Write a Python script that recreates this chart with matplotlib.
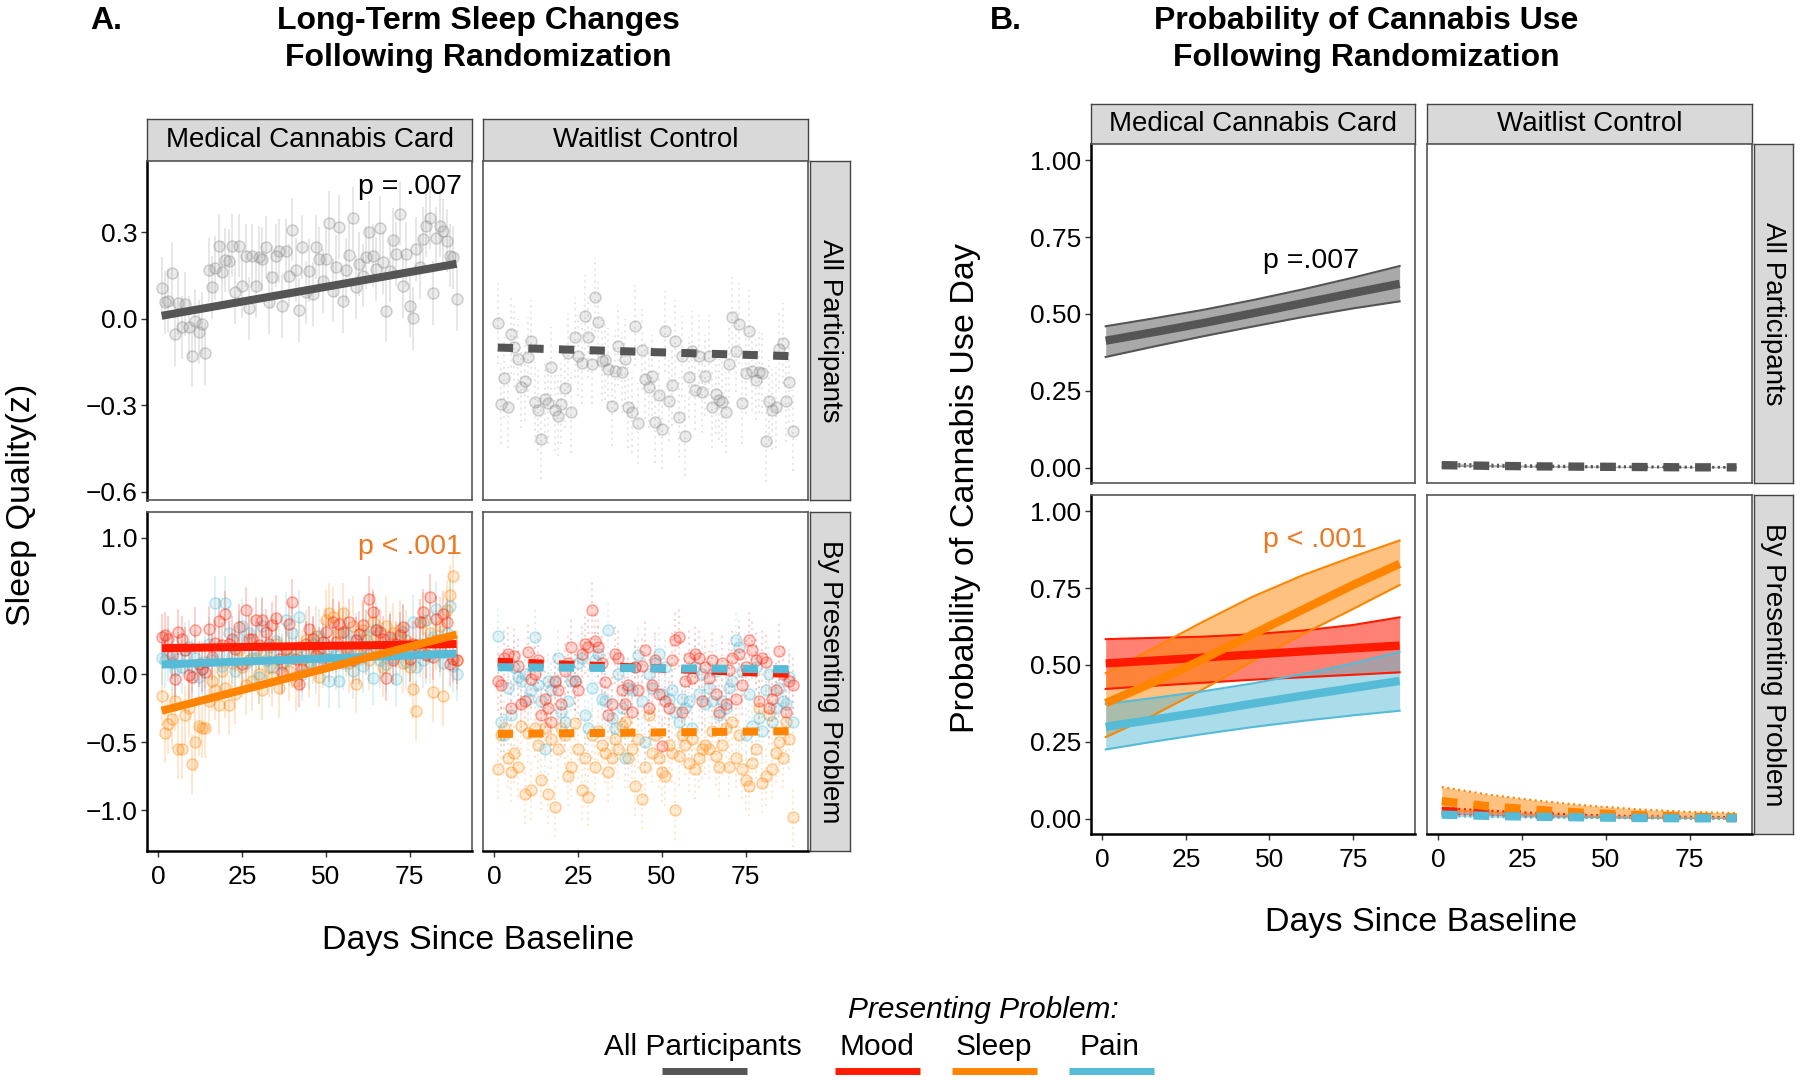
import numpy as np
import matplotlib
matplotlib.use("Agg")
import matplotlib.pyplot as plt
from matplotlib.colors import to_rgba
from matplotlib.lines import Line2D

plt.rcParams['font.family'] = ['Liberation Sans', 'DejaVu Sans']

W, H = 1800, 1081

GREY = '#555555'
MOOD = '#FF1A00'
SLEEP = '#FF8500'
PAIN = '#56BBD6'
P_ORANGE = '#EE7722'

# ---- Panel A: daily mean sleep quality (z), days 1..89 ----
a_all_mcc = [0.105, 0.056, 0.062, 0.157, -0.053, 0.053, -0.030, 0.051, -0.030, -0.128,
             -0.007, -0.047, -0.018, -0.120, 0.168, 0.108, 0.175, 0.253, 0.160, 0.203,
             0.201, 0.253, 0.091, 0.253, 0.114, 0.218, 0.036, 0.218, 0.114, 0.212,
             0.206, 0.247, 0.056, 0.143, 0.218, 0.235, 0.043, 0.235, 0.149, 0.308,
             0.168, 0.030, 0.249, 0.091, 0.166, 0.085, 0.249, 0.206, 0.131, 0.206,
             0.333, 0.097, 0.180, 0.318, 0.062, 0.168, 0.220, 0.347, 0.108, 0.189,
             0.149, 0.212, 0.299, 0.218, 0.172, 0.314, 0.195, 0.028, 0.166, 0.272,
             0.224, 0.364, 0.114, 0.224, 0.045, 0.001, 0.241, 0.178, 0.276, 0.322,
             0.350, 0.089, 0.278, 0.322, 0.304, 0.270, 0.218, 0.212, 0.068]
a_all_wl = [-0.016, -0.295, -0.205, -0.307, -0.053, -0.097, -0.140, -0.238, -0.215, -0.134,
            -0.076, -0.290, -0.318, -0.416, -0.278, -0.293, -0.168, -0.318, -0.336, -0.295,
            -0.240, -0.120, -0.324, -0.065, -0.128, -0.155, 0.010, -0.065, -0.157, 0.074,
            -0.013, -0.145, -0.143, -0.174, -0.301, -0.180, -0.093, -0.186, -0.140, -0.307,
            -0.324, -0.024, -0.362, -0.108, -0.209, -0.238, -0.197, -0.359, -0.266, -0.382,
            -0.044, -0.284, -0.230, -0.076, -0.341, -0.131, -0.405, -0.203, -0.113, -0.247,
            -0.128, -0.255, -0.197, -0.128, -0.307, -0.261, -0.281, -0.290, -0.324, -0.157,
            0.005, -0.113, -0.018, -0.293, -0.189, -0.042, -0.180, -0.212, -0.186, -0.189,
            -0.424, -0.284, -0.316, -0.307, -0.105, -0.085, -0.286, -0.220, -0.388]
a_mood_mcc = [0.271, 0.288, 0.254, 0.137, -0.035, 0.308, 0.259, 0.173, -0.010, -0.023,
              0.320, 0.075, 0.038, 0.014, 0.328, 0.124, 0.229, 0.387, 0.210, 0.442,
              0.222, 0.259, 0.185, 0.345, 0.075, 0.467, 0.259, 0.259, 0.394, 0.210,
              0.394, 0.308, 0.222, 0.357, 0.411, 0.112, 0.014, 0.185, 0.369, 0.528,
              0.112, -0.072, 0.038, 0.222, 0.332, 0.259, 0.137, 0.173, 0.234, 0.308,
              0.112, 0.381, 0.234, 0.369, 0.308, 0.185, 0.381, 0.100, 0.247, 0.295,
              0.357, 0.161, 0.553, 0.455, 0.320, 0.308, 0.259, -0.030, 0.271, 0.100,
              0.222, 0.284, 0.345, 0.210, 0.112, 0.222, 0.210, 0.381, 0.455, 0.137,
              0.565, 0.124, 0.406, 0.185, 0.442, 0.381, 0.075, 0.112, 0.100]
a_pain_mcc = [0.12, 0.10, 0.14, 0.08, 0.03, 0.11, 0.05, 0.18, 0.20, 0.06,
              0.12, -0.02, 0.04, 0.09, 0.22, 0.10, 0.52, 0.15, 0.06, 0.52,
              0.30, 0.13, 0.02, 0.26, 0.35, 0.08, 0.30, 0.12, 0.18, -0.02,
              0.35, 0.10, 0.20, 0.05, 0.24, 0.15, 0.07, 0.40, 0.11, 0.30,
              0.14, 0.42, 0.00, 0.18, 0.09, 0.22, 0.05, 0.28, 0.12, 0.17,
              -0.05, 0.20, 0.14, -0.05, 0.08, 0.30, 0.19, 0.02, 0.25, 0.11,
              0.06, 0.28, 0.15, -0.03, 0.33, 0.10, 0.18, 0.07, 0.26, 0.12,
              -0.04, 0.20, 0.31, 0.09, 0.15, 0.38, 0.05, 0.22, 0.10, 0.40,
              0.13, 0.27, 0.48, 0.18, 0.08, 0.30, 0.50, 0.06, 0.00]
a_sleep_mcc = [-0.16, -0.43, -0.37, -0.33, -0.20, -0.55, -0.55, -0.30, -0.25, -0.66,
               -0.50, -0.38, -0.40, -0.40, -0.20, -0.05, -0.12, -0.23, 0.02, -0.10,
               -0.23, 0.08, -0.15, 0.18, 0.05, -0.08, 0.10, -0.05, 0.12, 0.00,
               -0.12, 0.15, 0.05, -0.02, 0.22, -0.10, 0.08, 0.18, 0.02, 0.12,
               -0.05, 0.20, 0.10, 0.25, 0.05, 0.15, 0.28, -0.02, 0.12, 0.40,
               0.45, 0.42, 0.10, 0.30, 0.45, 0.20, 0.08, 0.35, -0.07, 0.15,
               0.32, 0.25, 0.10, 0.38, 0.28, 0.18, 0.05, 0.35, 0.22, 0.30,
               0.15, 0.32, 0.08, 0.25, 0.05, -0.11, -0.27, 0.20, 0.38, 0.15,
               0.30, -0.13, 0.25, 0.35, -0.16, 0.47, 0.58, 0.72, 0.10]
a_mood_wl = [-0.05, -0.08, 0.12, 0.15, -0.25, 0.13, 0.06, -0.22, -0.20, 0.16,
             -0.04, 0.00, 0.10, -0.30, -0.18, -0.25, -0.35, -0.05, -0.12, -0.22,
             0.02, 0.08, 0.20, -0.05, -0.12, 0.15, 0.22, 0.20, 0.47, 0.24,
             0.20, 0.08, -0.06, -0.30, -0.22, 0.15, 0.12, -0.12, -0.22, -0.08,
             -0.28, 0.05, -0.12, 0.06, 0.18, -0.25, -0.08, 0.10, -0.15, -0.53,
             -0.20, -0.25, 0.10, 0.25, 0.27, -0.28, -0.05, 0.12, -0.03, 0.15,
             0.12, -0.20, 0.05, -0.03, 0.10, -0.15, -0.28, 0.08, -0.22, 0.03,
             0.12, -0.18, 0.15, -0.08, 0.05, 0.25, 0.18, 0.10, -0.20, 0.12,
             0.09, -0.25, -0.18, -0.12, 0.17, 0.00, -0.28, -0.05, -0.08]
a_pain_wl = [0.28, -0.35, -0.45, -0.10, -0.30, 0.05, -0.02, -0.05, 0.00, -0.18,
             -0.12, 0.27, -0.08, -0.20, -0.55, -0.05, -0.12, -0.06, 0.12, -0.28,
             -0.35, -0.20, -0.05, -0.05, 0.08, 0.12, -0.30, -0.40, -0.10, 0.10,
             0.15, -0.18, -0.20, 0.32, -0.32, -0.40, 0.00, -0.25, -0.62, -0.10,
             -0.12, 0.05, 0.14, -0.20, -0.50, 0.00, -0.10, 0.08, 0.15, -0.15,
             0.05, -0.18, -0.12, -0.28, -0.35, -0.18, -0.25, -0.20, -0.40, 0.05,
             -0.15, 0.00, -0.22, -0.10, -0.20, 0.02, -0.30, -0.20, -0.25, -0.10,
             -0.05, 0.25, 0.20, 0.02, -0.45, -0.15, -0.38, 0.05, -0.32, -0.42,
             -0.12, 0.00, -0.35, -0.25, -0.10, -0.20, -0.22, -0.02, -0.35]
a_sleep_wl = [-0.70, -0.45, -0.40, -0.62, -0.72, -0.58, -0.68, -0.38, -0.88, -0.43,
              -0.85, -0.40, -0.52, -0.78, -0.40, -0.88, -0.48, -0.98, -0.55, -0.40,
              -0.45, -0.75, -0.68, -0.36, -0.55, -0.85, -0.62, -0.90, -0.45, -0.68,
              -0.42, -0.52, -0.58, -0.72, -0.62, -0.48, -0.55, -0.38, -0.35, -0.62,
              -0.55, -0.82, -0.48, -0.92, -0.68, -0.30, -0.58, -0.45, -0.62, -0.72,
              -0.75, -0.52, -0.58, -1.00, -0.60, -0.45, -0.52, -0.65, -0.48, -0.70,
              -0.62, -0.55, -0.52, -0.55, -0.42, -0.60, -0.68, -0.52, -0.40, -0.68,
              -0.35, -0.62, -0.45, -0.70, -0.78, -0.82, -0.65, -0.55, -0.25, -0.80,
              -0.75, -0.30, -0.70, -0.58, -0.50, -0.62, -0.35, -0.48, -1.05]

# error bar half widths per series
se_all_mcc, se_all_wl = 0.11, 0.14
se_mood_mcc, se_pain_mcc, se_sleep_mcc = 0.17, 0.20, 0.22
se_mood_wl, se_pain_wl, se_sleep_wl = 0.22, 0.22, 0.22

# fitted lines (day 1 and day 89)
fit_days = [1, 89]
fit_all_mcc = [0.01, 0.19]
fit_all_wl = [-0.10, -0.13]
fit_mood_mcc = [0.19, 0.22]
fit_pain_mcc = [0.07, 0.15]
fit_sleep_mcc = [-0.27, 0.29]
fit_mood_wl = [0.09, 0.00]
fit_pain_wl = [0.05, 0.035]
fit_sleep_wl = [-0.44, -0.42]

# ---- Panel B: predicted probability of a cannabis use day ----
b_days = [1, 15, 30, 45, 60, 75, 89]
b_all_mcc = [0.413, 0.440, 0.470, 0.502, 0.535, 0.568, 0.598]
b_all_mcc_hi = [0.460, 0.485, 0.513, 0.545, 0.580, 0.618, 0.656]
b_all_mcc_lo = [0.360, 0.393, 0.427, 0.459, 0.490, 0.518, 0.541]
b_all_wl = [0.008, 0.006, 0.004, 0.003, 0.002, 0.001, 0.001]
b_all_wl_hi = [0.013, 0.010, 0.007, 0.005, 0.004, 0.003, 0.002]
b_all_wl_lo = [0.004, 0.003, 0.002, 0.001, 0.001, 0.000, 0.000]
b_mood_mcc = [0.505, 0.514, 0.524, 0.534, 0.544, 0.554, 0.563]
b_mood_mcc_hi = [0.584, 0.588, 0.592, 0.600, 0.612, 0.630, 0.655]
b_mood_mcc_lo = [0.422, 0.432, 0.442, 0.452, 0.460, 0.468, 0.476]
b_sleep_mcc = [0.376, 0.442, 0.518, 0.600, 0.680, 0.760, 0.829]
b_sleep_mcc_hi = [0.473, 0.553, 0.640, 0.722, 0.792, 0.852, 0.905]
b_sleep_mcc_lo = [0.265, 0.335, 0.420, 0.512, 0.600, 0.682, 0.760]
b_pain_mcc = [0.299, 0.322, 0.347, 0.374, 0.400, 0.425, 0.448]
b_pain_mcc_hi = [0.373, 0.392, 0.414, 0.440, 0.470, 0.505, 0.543]
b_pain_mcc_lo = [0.225, 0.250, 0.275, 0.298, 0.318, 0.336, 0.351]
b_mood_wl = [0.025, 0.018, 0.012, 0.008, 0.005, 0.003, 0.002]
b_mood_wl_hi = [0.035, 0.026, 0.018, 0.012, 0.008, 0.006, 0.005]
b_mood_wl_lo = [0.016, 0.011, 0.007, 0.004, 0.002, 0.001, 0.000]
b_sleep_wl = [0.057, 0.040, 0.028, 0.018, 0.011, 0.006, 0.003]
b_sleep_wl_hi = [0.103, 0.078, 0.058, 0.042, 0.030, 0.022, 0.018]
b_sleep_wl_lo = [0.028, 0.018, 0.010, 0.005, 0.002, 0.001, 0.000]
b_pain_wl = [0.013, 0.009, 0.006, 0.004, 0.002, 0.001, 0.001]
b_pain_wl_hi = [0.020, 0.014, 0.010, 0.007, 0.005, 0.003, 0.002]
b_pain_wl_lo = [0.008, 0.005, 0.003, 0.002, 0.001, 0.000, 0.000]

x_ticks = [0, 25, 50, 75]
XLIM = (-3.4, 93.6)

fig = plt.figure(figsize=(18, 10.81), dpi=100)


def add_ax(x0, y0, x1, y1):
    # pixel box -> figure fraction
    return fig.add_axes([x0 / W, 1 - y1 / H, (x1 - x0) / W, (y1 - y0) / H])


def strip(x0, y0, x1, y1, text, rot=0):
    ax = add_ax(x0, y0, x1, y1)
    ax.set_facecolor('#D9D9D9')
    ax.set_xticks([])
    ax.set_yticks([])
    for s in ax.spines.values():
        s.set_color('#444444')
        s.set_linewidth(1.0)
    ax.text(0.5, 0.5, text, ha='center', va='center', rotation=rot,
            fontsize=20, transform=ax.transAxes)


def panel(x0, y0, x1, y1, ylim, yticks, ylabels, left, bottom):
    ax = add_ax(x0, y0, x1, y1)
    ax.set_xlim(*XLIM)
    ax.set_ylim(*ylim)
    for s in ax.spines.values():
        s.set_color('#555555')
        s.set_linewidth(1.2)
    ax.set_xticks(x_ticks)
    ax.set_yticks(yticks)
    ax.tick_params(labelsize=19, length=4, width=1.0, color='#333333')
    if left:
        ax.set_yticklabels(ylabels)
        ax.spines['left'].set_color('black')
        ax.spines['left'].set_linewidth(1.8)
        ax.tick_params(axis='y', pad=3)
    else:
        ax.tick_params(axis='y', left=False, labelleft=False)
    if bottom:
        ax.spines['bottom'].set_color('black')
        ax.spines['bottom'].set_linewidth(1.8)
        ax.tick_params(axis='x', pad=6)
    else:
        ax.tick_params(axis='x', bottom=False, labelbottom=False)
    return ax


def points(ax, vals, se, color, dotted):
    days = np.arange(1, len(vals) + 1)
    v = np.array(vals)
    ls = (0, (1.2, 2.2)) if dotted else '-'
    ax.vlines(days, v - se, v + se, colors=[to_rgba(color, 0.22)], lw=1.3,
              linestyles=ls, zorder=1)
    ax.scatter(days, v, s=62, facecolor=to_rgba(color, 0.17),
               edgecolor=to_rgba(color, 0.38), linewidths=1.1, zorder=2)


def fit(ax, vals, color, dashed):
    if dashed:
        ax.plot(fit_days, vals, color=color, lw=5.8, dashes=(1.9, 1.9),
                solid_capstyle='butt', zorder=4)
    else:
        ax.plot(fit_days, vals, color=color, lw=5.8, solid_capstyle='butt', zorder=4)


def band(ax, mid, lo, hi, color, fill_alpha, dashed, lw=6):
    edge_ls = ':' if dashed else '-'
    ax.fill_between(b_days, lo, hi, color=color, alpha=fill_alpha, lw=0, zorder=2)
    ax.plot(b_days, hi, color=color, lw=1.5, ls=edge_ls, zorder=3)
    ax.plot(b_days, lo, color=color, lw=1.5, ls=edge_ls, zorder=3)
    if dashed:
        ax.plot(b_days, mid, color=color, lw=lw, dashes=(1.9, 1.9), zorder=4)
    else:
        ax.plot(b_days, mid, color=color, lw=lw, solid_capstyle='butt', zorder=4)


# ================= Panel A =================
ylim_a1 = (-0.628, 0.546)
ylim_a2 = (-1.30, 1.19)
yt_a1 = [0.3, 0.0, -0.3, -0.6]
yl_a1 = ['0.3', '0.0', '\u22120.3', '\u22120.6']
yt_a2 = [1.0, 0.5, 0.0, -0.5, -1.0]
yl_a2 = ['1.0', '0.5', '0.0', '\u22120.5', '\u22121.0']

strip(147, 119, 472, 161, 'Medical Cannabis Card')
strip(483, 119, 808, 161, 'Waitlist Control')
strip(810, 161, 850, 500, 'All Participants', rot=-90)
strip(810, 512, 850, 851, 'By Presenting Problem', rot=-90)

ax = panel(147, 161, 472, 500, ylim_a1, yt_a1, yl_a1, True, False)
points(ax, a_all_mcc, se_all_mcc, '#8A8A8A', False)
fit(ax, fit_all_mcc, GREY, False)
ax.text(90.5, 0.455, 'p = .007', ha='right', va='center', fontsize=20.5)

ax = panel(483, 161, 808, 500, ylim_a1, yt_a1, yl_a1, False, False)
points(ax, a_all_wl, se_all_wl, '#8A8A8A', True)
fit(ax, fit_all_wl, GREY, True)

ax = panel(147, 512, 472, 851, ylim_a2, yt_a2, yl_a2, True, True)
points(ax, a_sleep_mcc, se_sleep_mcc, SLEEP, False)
points(ax, a_pain_mcc, se_pain_mcc, PAIN, False)
points(ax, a_mood_mcc, se_mood_mcc, MOOD, False)
fit(ax, fit_mood_mcc, MOOD, False)
fit(ax, fit_pain_mcc, PAIN, False)
fit(ax, fit_sleep_mcc, SLEEP, False)
ax.text(90.5, 0.93, 'p < .001', ha='right', va='center', fontsize=20.5, color=P_ORANGE)

ax = panel(483, 512, 808, 851, ylim_a2, yt_a2, yl_a2, False, True)
points(ax, a_sleep_wl, se_sleep_wl, SLEEP, True)
points(ax, a_pain_wl, se_pain_wl, PAIN, True)
points(ax, a_mood_wl, se_mood_wl, MOOD, True)
fit(ax, fit_mood_wl, MOOD, True)
fit(ax, fit_pain_wl, PAIN, True)
fit(ax, fit_sleep_wl, SLEEP, True)

fig.text(106 / W, 1 - 21 / H, 'A.', fontsize=23, fontweight='bold', ha='center', va='center')
fig.text(478 / W, 1 - 21 / H, 'Long-Term Sleep Changes', fontsize=23, fontweight='bold',
         ha='center', va='center')
fig.text(478 / W, 1 - 58 / H, 'Following Randomization', fontsize=23, fontweight='bold',
         ha='center', va='center')
fig.text(478 / W, 1 - 940 / H, 'Days Since Baseline', fontsize=24.5, ha='center', va='center')
fig.text(22 / W, 1 - 505 / H, 'Sleep Quality(z)', fontsize=24.5, ha='center', va='center',
         rotation=90)

# ================= Panel B =================
ylim_b = (-0.05, 1.053)
yt_b = [1.0, 0.75, 0.5, 0.25, 0.0]
yl_b = ['1.00', '0.75', '0.50', '0.25', '0.00']

strip(1091, 104, 1415, 144, 'Medical Cannabis Card')
strip(1427, 104, 1752, 144, 'Waitlist Control')
strip(1754, 144, 1793, 483, 'All Participants', rot=-90)
strip(1754, 495, 1793, 834, 'By Presenting Problem', rot=-90)

ax = panel(1091, 144, 1415, 483, ylim_b, yt_b, yl_b, True, False)
band(ax, b_all_mcc, b_all_mcc_lo, b_all_mcc_hi, GREY, 0.5, False)
ax.text(62.6, 0.672, 'p =.007', ha='center', va='center', fontsize=20.5)

ax = panel(1427, 144, 1752, 483, ylim_b, yt_b, yl_b, False, False)
band(ax, b_all_wl, b_all_wl_lo, b_all_wl_hi, GREY, 0.5, True)

ax = panel(1091, 495, 1415, 834, ylim_b, yt_b, yl_b, True, True)
band(ax, b_mood_mcc, b_mood_mcc_lo, b_mood_mcc_hi, MOOD, 0.55, False)
band(ax, b_sleep_mcc, b_sleep_mcc_lo, b_sleep_mcc_hi, SLEEP, 0.5, False)
band(ax, b_pain_mcc, b_pain_mcc_lo, b_pain_mcc_hi, PAIN, 0.5, False)
ax.text(63.5, 0.907, 'p < .001', ha='center', va='center', fontsize=20.5, color=P_ORANGE)

ax = panel(1427, 495, 1752, 834, ylim_b, yt_b, yl_b, False, True)
band(ax, b_mood_wl, b_mood_wl_lo, b_mood_wl_hi, MOOD, 0.5, True)
band(ax, b_sleep_wl, b_sleep_wl_lo, b_sleep_wl_hi, SLEEP, 0.5, True)
band(ax, b_pain_wl, b_pain_wl_lo, b_pain_wl_hi, PAIN, 0.5, True)

fig.text(1006 / W, 1 - 21 / H, 'B.', fontsize=23, fontweight='bold', ha='center', va='center')
fig.text(1366 / W, 1 - 21 / H, 'Probability of Cannabis Use', fontsize=23, fontweight='bold',
         ha='center', va='center')
fig.text(1366 / W, 1 - 58 / H, 'Following Randomization', fontsize=23, fontweight='bold',
         ha='center', va='center')
fig.text(1421 / W, 1 - 922 / H, 'Days Since Baseline', fontsize=24.5, ha='center', va='center')
fig.text(966 / W, 1 - 488 / H, 'Probability of Cannabis Use Day', fontsize=24.5,
         ha='center', va='center', rotation=90)

# ================= Legend =================
fig.text(983 / W, 1 - 1010 / H, 'Presenting Problem:', fontsize=21.5, style='italic',
         ha='center', va='center')
legend_items = [('All Participants', GREY, 703, 662, 747),
                ('Mood', MOOD, 877, 835, 920),
                ('Sleep', SLEEP, 994, 952, 1037),
                ('Pain', PAIN, 1109, 1069, 1154)]
for label, col, xc, xa, xb in legend_items:
    fig.text(xc / W, 1 - 1047 / H, label, fontsize=21.5, ha='center', va='center')
    fig.add_artist(Line2D([xa / W, xb / W], [1 - 1071 / H, 1 - 1071 / H],
                          color=col, lw=5, solid_capstyle='butt',
                          transform=fig.transFigure))

fig.savefig('out.png', dpi=100)
